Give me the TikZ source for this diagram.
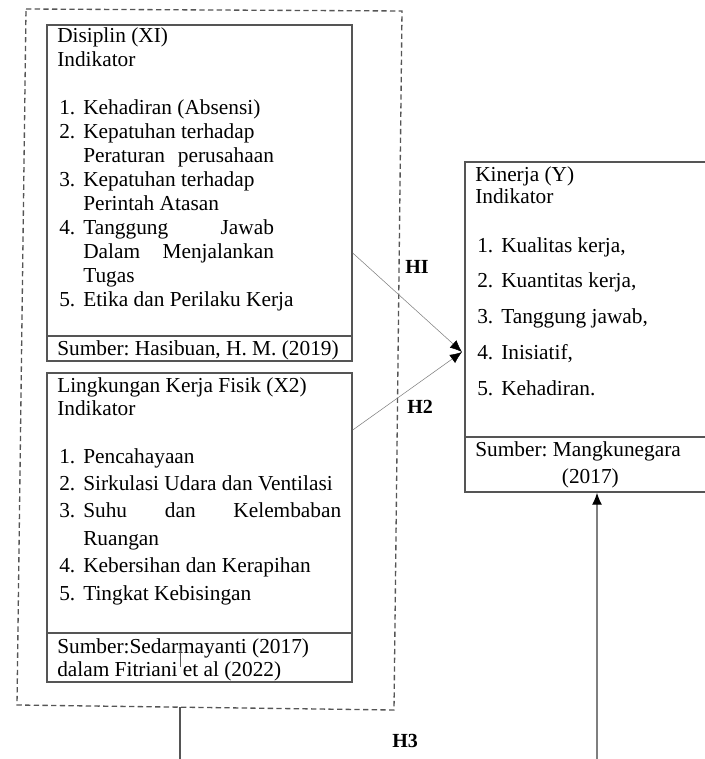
\documentclass[tikz,border=0pt]{standalone}
\usepackage{fontspec}
\setmainfont{Liberation Serif}
\usetikzlibrary{calc,fit,arrows.meta}
\definecolor{boxgray}{HTML}{555555}
\definecolor{linegray}{HTML}{7F7F7F}
\newcommand{\nr}[1]{\makebox[19.5pt][l]{\hspace{1.5pt}#1.}}
\newcommand{\ind}{\hspace*{19.5pt}}
\frenchspacing
\tikzset{
  varbox/.style={draw=boxgray, line width=1.1pt, inner sep=0pt},
  txt/.style={anchor=base west, inner sep=0pt, align=left},
  hyp/.style={font=\bfseries\fontsize{15}{17}\selectfont, anchor=base west, inner sep=0pt},
}

\begin{document}
\begin{tikzpicture}[x=0.75pt,y=-0.75pt,>={Latex[length=9pt,width=7.5pt,color=black]}]
    \clip (0,0) rectangle (705,759);

    % dashed frame round X1 and X2
    \draw[boxgray, line width=1pt, dash pattern=on 4pt off 2.5pt]
        (26,9) -- (402,11) -- (394,710) -- (17,705) -- cycle;

    % X1 (text nodes sit on the baseline of their last line)
    \node[varbox, fit={(47,25) (352,361)}] (disiplin) {};
    \draw[boxgray, line width=1.1pt] (47,336) -- (352,336);
    \node[txt, font=\fontsize{16}{18}\selectfont] (x1head) at (57,306)
        {Disiplin (XI)\\Indikator\\[18pt]
         \nr{1}Kehadiran (Absensi)\\
         \nr{2}Kepatuhan terhadap\\
         \ind\makebox[143pt][s]{Peraturan perusahaan}\\
         \nr{3}Kepatuhan terhadap\\
         \ind Perintah Atasan\\
         \nr{4}\makebox[143pt][s]{Tanggung Jawab}\\
         \ind\makebox[143pt][s]{Dalam Menjalankan}\\
         \ind Tugas\\
         \nr{5}Etika dan Perilaku Kerja};
    \node[txt, font=\fontsize{16}{18}\selectfont] (x1src) at (57,355)
        {Sumber: Hasibuan, H. M. (2019)};

    % X2
    \node[varbox, fit={(47,373) (352,682)}] (lingkungan) {};
    \draw[boxgray, line width=1.1pt] (47,633) -- (352,633);
    \node[txt, font=\fontsize{16}{17.25}\selectfont] (x2head) at (57,415)
        {Lingkungan Kerja Fisik (X2)\\Indikator};
    \node[txt, font=\fontsize{16}{20.55}\selectfont] (x2list) at (57,600)
        {\nr{1}Pencahayaan\\
         \nr{2}Sirkulasi Udara dan Ventilasi\\
         \nr{3}\makebox[193.5pt][s]{Suhu dan Kelembaban}\\
         \ind Ruangan\\
         \nr{4}Kebersihan dan Kerapihan\\
         \nr{5}Tingkat Kebisingan};
    \node[txt, font=\fontsize{16}{17.25}\selectfont] (x2src) at (57,676)
        {Sumber:Sedarmayanti (2017)\\dalam Fitriani et al (2022)};
    \draw[boxgray, line width=0.6pt] (180,650) -- (180,667);

    % Y
    \node[varbox, fit={(465,162) (730,492)}] (kinerja) {};
    \draw[boxgray, line width=1.1pt] (465,437) -- (730,437);
    \node[txt, font=\fontsize{16}{16.5}\selectfont] (yhead) at (475,204)
        {Kinerja (Y)\\Indikator};
    \node[txt, font=\fontsize{16}{26.8}\selectfont] (ylist) at (475,395)
        {\nr{1}Kualitas kerja,\\
         \nr{2}Kuantitas kerja,\\
         \nr{3}Tanggung jawab,\\
         \nr{4}Inisiatif,\\
         \nr{5}Kehadiran.};
    \node[txt, font=\fontsize{16}{20.25}\selectfont] (ysrc) at (475,483)
        {Sumber: Mangkunegara\\\hspace*{65pt}(2017)};

    % hypotheses
    \coordinate (yin) at (462,352);
    \draw[linegray, ->] ($(disiplin.east)+(0,60)$) -- (yin);
    \draw[linegray, ->] ($(lingkungan.east)+(0,-97.5)$) -- (yin);
    \coordinate (h3a) at (180,707);
    \coordinate (h3b) at (180,775);
    \draw[boxgray, line width=0.9pt] (h3a) -- (h3b);
    \coordinate (h3c) at (597,775);
    \draw[linegray, line width=0.9pt, ->] (h3c) -- (h3c |- kinerja.south);

    % labels
    \node[hyp] (h1) at (405,273) {HI};
    \node[hyp] (h2) at (407,413) {H2};
    \node[hyp] (h3) at (392,747) {H3};
\end{tikzpicture}
\end{document}
